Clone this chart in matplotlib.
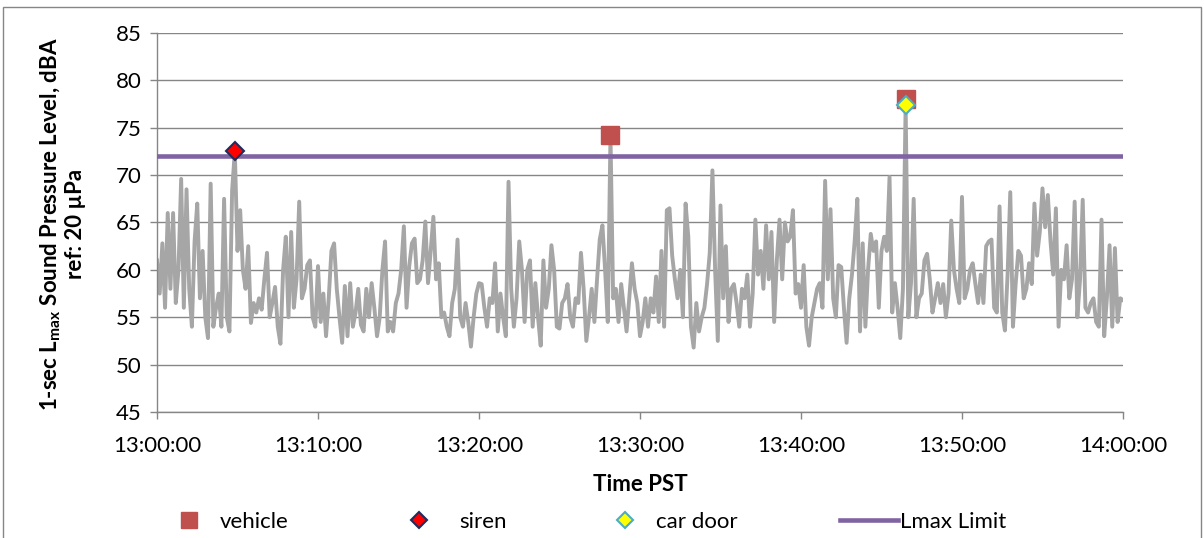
import matplotlib
matplotlib.use("Agg")
import matplotlib.pyplot as plt
import numpy as np
from matplotlib.lines import Line2D
from matplotlib.patches import Rectangle

plt.rcParams['font.family'] = ['Lato', 'DejaVu Sans']
plt.rcParams['mathtext.fontset'] = 'custom'
plt.rcParams['mathtext.rm'] = 'Lato'
plt.rcParams['mathtext.bf'] = 'Lato:bold'

# 1-sec Lmax, one value every 10 s from 13:00:00 to 14:00:00
step_s = 10
spl = [
    61, 57.5, 62.8, 56, 66, 58, 66, 56.5, 60, 69.6,
    56, 68.5, 58, 54, 63, 67, 57, 62, 55, 52.8,
    69.1, 54, 56, 57.5, 54, 67.5, 55, 53.5, 68.4, 72.5,
    62, 66.3, 60, 58, 62.5, 54.4, 56.5, 55.5, 57, 55.8,
    59, 61.8, 55, 56.5, 58.2, 54, 52.2, 60, 63.5, 55,
    64, 56, 59, 67.2, 57, 58, 60.5, 61, 55, 54,
    60.4, 54.5, 57.5, 53, 57, 62, 62.8, 58, 55, 52.3,
    58.3, 53, 58.6, 54, 55.5, 58, 54.2, 53.5, 58, 55,
    58.6, 56, 53, 55, 60, 63, 53.5, 54.5, 53.5, 56.5,
    57.5, 60, 64.6, 56, 60.4, 62.8, 63.3, 58.6, 59, 61,
    65.1, 58.6, 62, 65.6, 59, 60.7, 55, 55.5, 54, 53,
    56.5, 58, 63.2, 55, 54, 56.5, 54.5, 51.9, 55, 57.5,
    58.6, 58.5, 56, 54, 57, 56.5, 60.7, 53.5, 57.5, 55,
    53, 69.3, 58, 54, 57, 63, 60, 54.5, 60, 61,
    54, 58.6, 55, 52, 61, 56, 58, 62.6, 60, 54,
    53.8, 56.5, 57, 58.5, 55, 54, 57, 56.5, 61.8, 58,
    52.5, 55, 58, 54.5, 59, 63.2, 64.7, 60, 54.5, 74.2,
    57, 58, 54.5, 58.5, 56, 53.5, 57, 60.7, 58, 56.5,
    53, 54.5, 57, 54, 57, 55.5, 59.3, 54.5, 62, 54,
    66.3, 66.5, 61.5, 59, 57, 60, 55, 67, 63.5, 54,
    51.8, 56.5, 53.5, 55, 56, 58.5, 61.8, 70.5, 60, 52.5,
    66.8, 57, 62.5, 54.5, 58, 58.5, 56.5, 54, 58, 57,
    59.5, 54, 57.5, 65.3, 59.5, 62, 58, 64.7, 59, 64,
    54.5, 61, 65.3, 59, 65, 63, 63.5, 66.3, 57.5, 58.5,
    56, 60.5, 54, 52, 55, 56.5, 58, 58.6, 56, 69.4,
    59, 66.4, 57, 55, 60.5, 60.3, 56, 52.3, 57, 59.5,
    63, 67.5, 53.5, 62.8, 54, 60, 63.8, 62, 63, 56,
    62, 63.5, 62, 69.8, 55.5, 58.6, 56, 52.8, 58, 77.4,
    55, 58.6, 67.5, 55, 57, 57.5, 61, 61.7, 59, 55.5,
    57, 58.6, 56.5, 58.5, 55, 57.5, 65.2, 60, 58, 56.5,
    67.7, 57, 58, 60, 60.7, 58.5, 56.5, 59.5, 56.5, 62.5,
    63, 63.2, 56, 55.5, 66.7, 55.5, 53.6, 59.5, 68.2, 54,
    58.5, 62, 61.5, 57, 58, 60.7, 58.5, 67, 61.5, 64,
    68.6, 64.5, 67.9, 63, 59.5, 66.5, 54, 60, 59, 62.6,
    57, 59, 67.2, 55, 59, 67.4, 56, 55.5, 56.5, 57,
    54.5, 54, 65.3, 53, 57, 62.6, 54, 62.3, 54.5, 57,
    56.8,
]

# identified events: seconds after 13:00:00, level in dBA
vehicle_t = [1690, 2790]
vehicle_db = [74.2, 78.0]
siren_t = [290]
siren_db = [72.5]
car_door_t = [2790]
car_door_db = [77.4]

lmax_limit = 72

x_ticks_s = [0, 600, 1200, 1800, 2400, 3000, 3600]
x_tick_labels = ['13:00:00', '13:10:00', '13:20:00', '13:30:00',
                 '13:40:00', '13:50:00', '14:00:00']
y_ticks = [45, 50, 55, 60, 65, 70, 75, 80, 85]

grid_c = '#868686'
fs = 16

fig = plt.figure(figsize=(12.04, 5.38), dpi=100)
ax = fig.add_axes([0.1304, 0.2342, 0.8023, 0.7045])

t = np.arange(len(spl)) * step_s
ax.plot(t, spl, color='#a6a6a6', lw=2.8, zorder=2)
ax.axhline(lmax_limit, color='#8064a2', lw=3.3, zorder=3)

ax.plot(vehicle_t, vehicle_db, ls='none', marker='s', ms=13,
        mfc='#c0504d', mec='#c0504d', zorder=4)
ax.plot(siren_t, siren_db, ls='none', marker='D', ms=9,
        mfc='#ff0000', mec='#1f2d5c', mew=1.5, zorder=5)
ax.plot(car_door_t, car_door_db, ls='none', marker='D', ms=9,
        mfc='#ffff00', mec='#4bacc6', mew=1.5, zorder=5)

ax.set_xlim(0, 3600)
ax.set_ylim(45, 85)
ax.set_xticks(x_ticks_s)
ax.set_xticklabels(x_tick_labels)
ax.set_yticks(y_ticks)
ax.yaxis.grid(True, color=grid_c, lw=1.0)
ax.set_axisbelow(True)

for side in ['top', 'right']:
    ax.spines[side].set_visible(False)
for side in ['left', 'bottom']:
    ax.spines[side].set_color(grid_c)
    ax.spines[side].set_linewidth(1.0)
ax.tick_params(axis='both', direction='out', length=5, width=1.0,
               color=grid_c, labelsize=fs, labelcolor='black')
ax.tick_params(axis='y', pad=6)
ax.tick_params(axis='x', pad=12)

ax.set_xlabel('Time PST', fontsize=fs, fontweight='bold', labelpad=13)
fig.text(0.052, 0.584,
         '1-sec L$_{\\mathbf{max}}$ Sound Pressure Level, dBA\nref: 20 \u00b5Pa',
         rotation=90, ha='center', va='center', fontsize=fs,
         fontweight='bold', multialignment='center', linespacing=1.1)

# legend entries, spaced like the original
entries = [
    (Line2D([], [], ls='none', marker='s', ms=12, mfc='#c0504d', mec='#c0504d'),
     'vehicle', 180, 0.8, 1.0),
    (Line2D([], [], ls='none', marker='D', ms=8.5, mfc='#ff0000', mec='#1f2d5c', mew=1.5),
     'siren', 410, 0.8, 1.4),
    (Line2D([], [], ls='none', marker='D', ms=8.5, mfc='#ffff00', mec='#4bacc6', mew=1.5),
     'car door', 616, 0.8, 1.0),
    (Line2D([], [], color='#8064a2', lw=3.3),
     'Lmax Limit', 840, 2.6, 0.1),
]
for handle, label, x_px, hlen, hpad in entries:
    fig.legend(handles=[handle], labels=[label], loc='center left',
               bbox_to_anchor=(x_px / 1204, 1 - 522 / 538), frameon=False,
               fontsize=fs, borderpad=0, borderaxespad=0,
               handlelength=hlen, handletextpad=hpad)

fig.patches.append(Rectangle((3 / 1204, -0.05), 1198 / 1204, 1 - 7 / 538 + 0.05,
                             transform=fig.transFigure, fill=False,
                             edgecolor=grid_c, lw=1.0))

fig.savefig('out.png', dpi=100)
